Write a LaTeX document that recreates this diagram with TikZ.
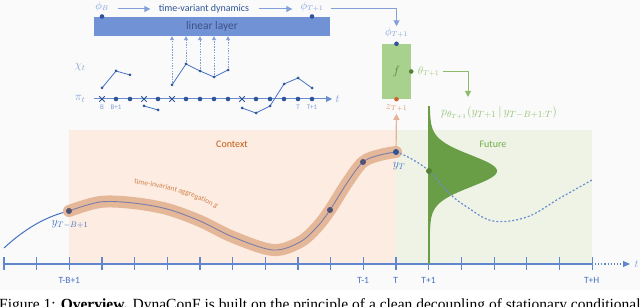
\documentclass[tikz,border=0pt]{standalone}
\usepackage{amsmath,amssymb}
\usepackage{fontspec}
\setsansfont{Carlito}
\newfontfamily\capfont{Liberation Serif}
\usepackage{tikz}
\usetikzlibrary{arrows.meta,positioning,shapes.misc,decorations.text}
\usepackage{xcolor}
\definecolor{dynblue}{RGB}{68,114,196}
\definecolor{dotblue}{RGB}{47,85,151}
\definecolor{lightblue}{RGB}{132,160,218}
\definecolor{layer}{RGB}{114,146,214}
\definecolor{layertext}{RGB}{62,82,132}
\definecolor{fgreen}{RGB}{169,209,142}
\definecolor{dgreen}{RGB}{112,173,71}
\definecolor{gauss}{RGB}{106,158,70}
\definecolor{ddgreen}{RGB}{84,130,53}
\definecolor{ctxbg}{RGB}{252,236,226}
\definecolor{futbg}{RGB}{238,243,230}
\definecolor{band}{RGB}{229,183,153}
\definecolor{ctxtext}{RGB}{197,90,17}
\definecolor{zorange}{RGB}{204,102,51}
\definecolor{inner}{RGB}{122,126,168}
\definecolor{slate}{RGB}{79,82,117}

\begin{document}
\begin{tikzpicture}[x=1pt, y=-1pt,
  txt/.style={font=\sffamily\fontsize{10}{12}\selectfont},
  small/.style={font=\sffamily\fontsize{7}{8}\selectfont, text=lightblue, inner sep=1pt},
  ticklbl/.style={font=\sffamily\fontsize{9.5}{11}\selectfont, text=dynblue},
  mlbl/.style={font=\fontsize{10.5}{12}\selectfont, inner sep=1pt},
  dot/.style={circle, fill=dotblue, inner sep=0pt, minimum size=4.6pt},
  sdot/.style={circle, fill=dotblue, inner sep=0pt, minimum size=3pt},
  xmark/.style={cross out, draw=dotblue, line width=1pt, minimum size=4.5pt, inner sep=0pt},
  arr/.style={-{Triangle[length=6pt,width=6pt]}, lightblue, line width=1pt},
  garr/.style={-{Triangle[length=6pt,width=6pt]}, dgreen!80, line width=1pt},
  oarr/.style={-{Triangle[length=6pt,width=6pt]}, zorange!50, line width=1.2pt},
  dasharr/.style={-{Triangle[length=4pt,width=4pt]}, lightblue, line width=0.8pt, dash pattern=on 1.5pt off 1.2pt},
  axisl/.style={dynblue!85, line width=1.1pt},
]
\useasboundingbox (0,0) rectangle (640,307);
\clip (0,0) rectangle (640,307);
\fill[black!2] (0,0) rectangle (640,290);

% top: dynamics
\node[fill=layer, minimum width=236pt, minimum height=19pt, inner sep=0pt, font=\sffamily\fontsize{11.5}{13}\selectfont, text=layertext] (lin) at (212,26.5) {linear layer};
\node[mlbl, text=lightblue] (phiB) at (102,6.5) {$\phi_B$};
\node[txt, text=dotblue] (dyn) at (204,9) {time-variant dynamics};
\node[mlbl, text=lightblue] (phiT) at (312,6.5) {$\phi_{T+1}$};
\node[dot] (phiBd) at (102,16.5) {};
\node[dot] (phiTd) at (312,16.5) {};
\draw[arr, shorten <=8pt, shorten >=5pt] (phiB.east |- dyn.west) -- (dyn.west);
\draw[arr, shorten <=6pt, shorten >=7pt] (dyn.east) -- (phiT.west |- dyn.east);

% pi_t and chi_t
\node[font=\fontsize{11.5}{13}\selectfont, text=lightblue] (chi) at (80,67) {$\chi_t$};
\node[font=\fontsize{11.5}{13}\selectfont, text=lightblue] (pi) at (80,99) {$\pi_t$};
\coordinate (pa) at (94,99);
\coordinate (pb) at (332,99);
\draw[arr, dynblue!80] (pa) -- (pb);
\node[font=\fontsize{11}{12}\selectfont, text=lightblue, right=0pt of pb] (tpi) {$t$};
\foreach \i/\y in {0/88,1/71,2/75,3/106,4/110,5/85,6/64,7/71,8/77,9/70,10/108,11/113,12/106,13/84,14/78,15/88}
  \coordinate (c\i) at ({102+14*\i},\y);
\draw[dynblue, line width=0.8pt] (c0) -- (c1) -- (c2);
\draw[dynblue, line width=0.8pt] (c3) -- (c4);
\draw[dynblue, line width=0.8pt] (c5) -- (c6) -- (c7) -- (c8) -- (c9);
\draw[dynblue, line width=0.8pt] (c10) -- (c11) -- (c12) -- (c13) -- (c14) -- (c15);
\foreach \i in {0,...,15} \node[sdot] at (c\i) {};
\foreach \i in {5,...,9} \draw[dasharr, shorten <=2pt] (c\i) -- (c\i |- lin.south);
\foreach \i in {1,2,4,6,7,8,9,11,12,13,14,15} \node[dot] (p\i) at ({102+14*\i},99) {};
\foreach \i in {0,3,5,10} \node[xmark] (p\i) at ({102+14*\i},99) {};
\node[small, below=2pt of p0] (lB) {B};
\node[small, below=2pt of p1] (lB1) {B+1};
\node[small, below=2pt of p14] (lT) {T};
\node[small, below=2pt of p15] (lT1) {T+1};

% f block
\node[fill=fgreen, minimum width=29pt, minimum height=55pt, inner sep=0pt, text=ddgreen, font=\fontsize{13}{13}\selectfont] (f) at (396.5,71.5) {$f$};
\node[dot] (fin) at (f.north) {};
\node[dot, fill=ddgreen] (fout) at (f.east) {};
\node[dot, fill=zorange] (fz) at (f.south) {};
\node[mlbl, text=lightblue] (phiin) at (396.5,32.5) {$\phi_{T+1}$};
\node[mlbl, text=fgreen!85!dgreen, right=3pt of fout] (theta) {$\theta_{T+1}$};
\node[mlbl, text=zorange!70] (zlab) at (396.5,108) {$z_{T+1}$};
\draw[arr, shorten <=6pt] (phiT.east |- dyn.east) -| (phiin.north);
\coordinate (pin) at (468,97);
\draw[garr, shorten <=2pt] (theta.east) -| (pin);
\node[font=\fontsize{12.5}{14}\selectfont, text=dgreen!75] (plab) at (499,113) {$p_{\theta_{T+1}}(y_{T+1}\,|\,y_{T-B+1:T})$};

% context / future
\fill[ctxbg] (69,130) rectangle (396,264);
\fill[futbg] (396,130) rectangle (592,264);
\node[txt, text=ctxtext] (ctx) at (232,144) {Context};
\node[txt, text=dgreen] (fut) at (493,144) {Future};

% time axis
\coordinate (ax0) at (4,264);
\coordinate (ax1) at (592,264);
\coordinate (ax2) at (630,264);
\draw[axisl] (ax0) -- (ax1);
\draw[axisl, dotted, -{Triangle[length=7pt,width=6pt]}] (ax1) -- (ax2);
\node[font=\fontsize{11}{12}\selectfont, text=lightblue, right=1pt of ax2] (tax) {$t$};
\foreach \k in {0,...,18} \draw[axisl] ({4+32.67*\k},257) -- ({4+32.67*\k},270);
\node[ticklbl] (tTB) at (69.3,280) {T-B+1};
\node[ticklbl] (tTm) at (363.2,280) {T-1};
\node[ticklbl] (tT) at (395.8,280) {T};
\node[ticklbl] (tTp) at (428.5,280) {T+1};
\node[ticklbl] (tTH) at (591.7,280) {T+H};

% series
\draw[dynblue, line width=1pt] (4,248) .. controls (30,224) and (52,215) .. (69,211);
\draw[band, line width=12pt, line cap=round] plot[smooth, tension=0.55] coordinates {(69,211) (100,202) (133,203) (167,209) (200,221) (233,237) (273,250) (300,242) (317,227) (330,210) (347,183) (363,162) (380,155) (396,152)};
\draw[inner, line width=0.9pt] plot[smooth, tension=0.55] coordinates {(69,211) (100,202) (133,203) (167,209) (200,221) (233,237) (273,250) (300,242) (317,227) (330,210) (347,183) (363,162) (380,155) (396,152)};
\path[decorate, decoration={text along path, text align=left,
  text={|\sffamily\fontsize{7.5}{9}\selectfont\color{ctxtext!75}|time-invariant aggregation |\sffamily\itshape\fontsize{7.5}{9}\selectfont\color{ctxtext!75}|g}}]
  (134,184) .. controls (164,187) and (192,195) .. (222,211);

% predictive distribution
\fill[gauss] plot[domain=106:262, samples=140, variable=\t] ({429+60*exp(-((\t-171)/16)^2/2)+8/(1+((\t-171)/22)^2)}, \t) -- cycle;
\draw[gauss, line width=1.6pt] (429,106) -- (429,264);
\draw[dynblue!80, line width=1.2pt, dash pattern=on 2pt off 2pt] plot[smooth, tension=0.6] coordinates {(396,152) (410,158) (429,171) (450,194) (467,207) (493,221) (527,217) (560,198) (592,180)};

\node[dot, fill=slate, minimum size=6pt] (yB) at (69,211) {};
\node[dot, fill=slate, minimum size=6pt] (y1) at (330,210) {};
\node[dot, fill=slate, minimum size=6pt] (y2) at (363,162) {};
\node[dot, minimum size=6pt] (yT) at (396,152) {};
\node[dot, fill=ddgreen, minimum size=6pt] (yhat) at (429,171) {};
\draw[oarr, shorten <=3pt, shorten >=1pt] (yT) -- (zlab.south);
\node[font=\fontsize{12}{14}\selectfont, text=dynblue] (lyB) at (70,224) {$y_{T-B+1}$};
\node[font=\fontsize{12}{14}\selectfont, text=dynblue] (lyT) at (399,166) {$y_T$};

% caption line
\node[anchor=base west, inner sep=0pt, font=\capfont\fontsize{15.5}{18}\selectfont] (cap) at (-1,309)
  {Figure 1: \textbf{Overview.} DynaConF is built on the principle of a clean decoupling of stationary conditional};
\end{tikzpicture}
\end{document}
